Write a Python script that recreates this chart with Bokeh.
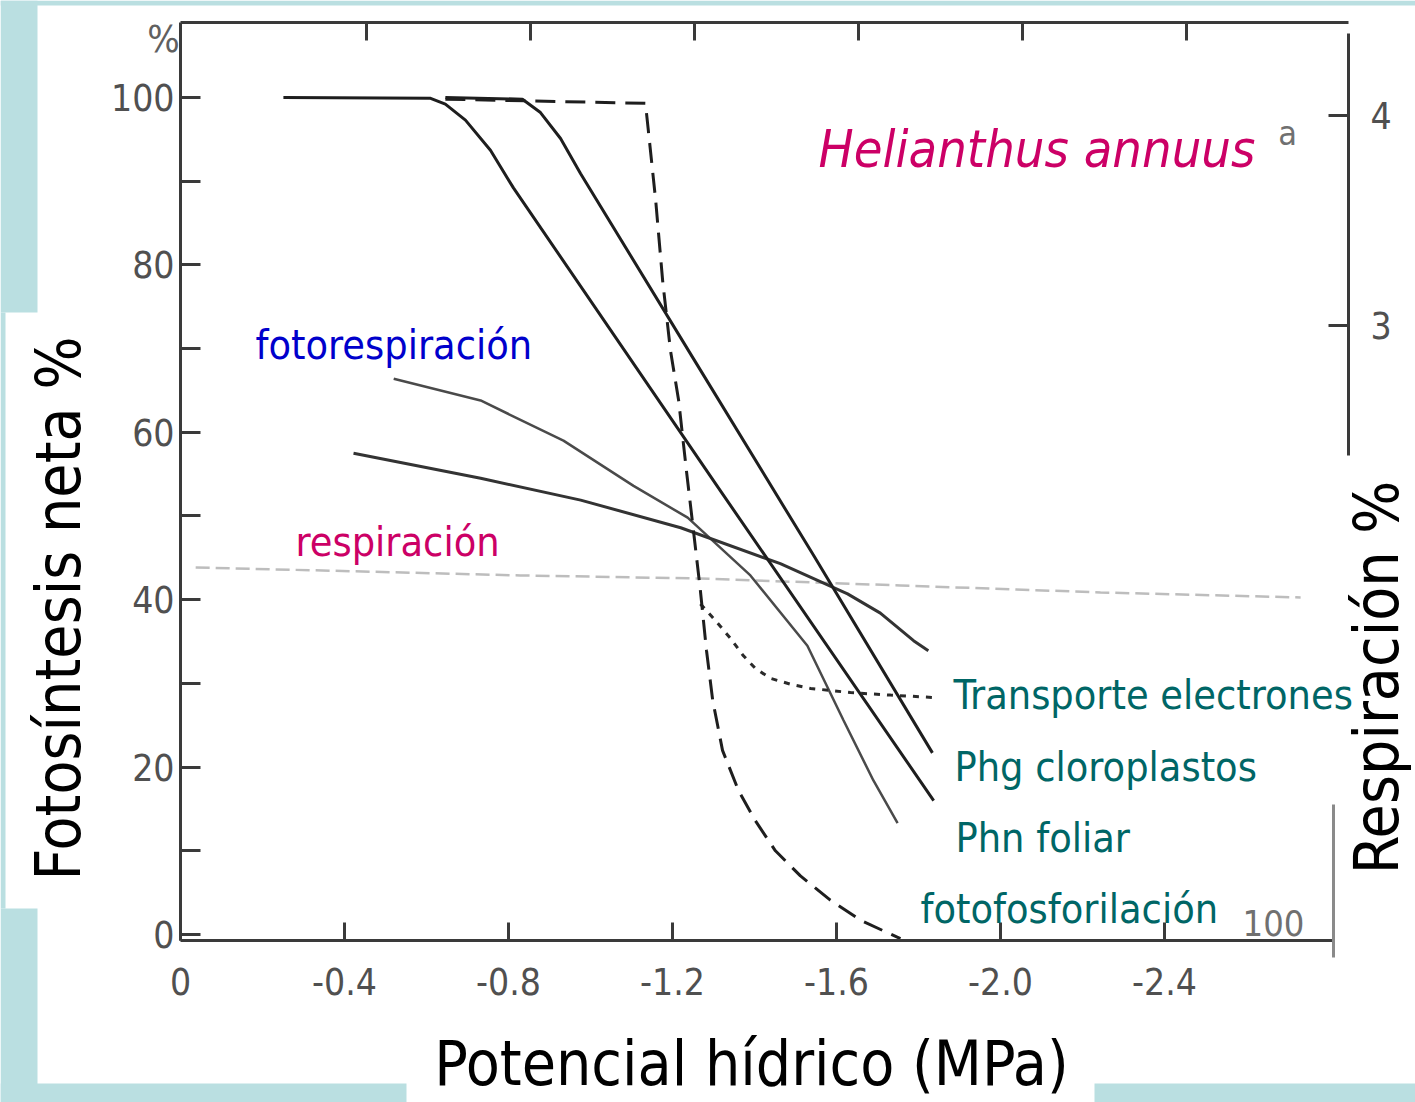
import math
from bokeh.plotting import figure
from bokeh.models import Range1d, LinearAxis, FixedTicker, Label, BoxAnnotation
from bokeh.embed import file_html
from bokeh.resources import INLINE

# ---------------- data ----------------
# x = potencial hídrico (MPa), y = fotosíntesis neta (%)
fotofosforilacion_x = [-0.646, -1.134, -1.141, -1.159, -1.176, -1.195, -1.215, -1.234, -1.251, -1.268,
                       -1.283, -1.298, -1.322, -1.361, -1.402, -1.451, -1.512, -1.585, -1.659, -1.756]
fotofosforilacion_y = [99.8, 99.3, 96.1, 87.7, 78.1, 69.8, 63.8, 55.4, 48.3, 41.1,
                       33.9, 28.0, 22.0, 17.2, 13.6, 10.0, 7.0, 4.1, 1.7, -0.5]

phg_cloroplastos_x = [-0.646, -0.834, -0.878, -0.927, -0.976, -1.251, -1.544, -1.834]
phg_cloroplastos_y = [100.0, 99.8, 98.2, 95.1, 90.9, 68.8, 45.3, 21.7]

phn_foliar_x = [-0.251, -0.610, -0.646, -0.695, -0.756, -0.812, -1.317, -1.837]
phn_foliar_y = [100.0, 99.9, 99.2, 97.3, 93.7, 89.2, 53.0, 16.0]

transporte_x = [-1.268, -1.305, -1.341, -1.373, -1.402, -1.439, -1.488, -1.537, -1.634, -1.732, -1.841]
transporte_y = [39.5, 37.5, 35.4, 33.3, 31.8, 30.6, 29.9, 29.4, 28.9, 28.6, 28.3]

fotorespiracion_x = [-0.520, -0.732, -0.934, -1.105, -1.237, -1.390, -1.529, -1.617, -1.690, -1.749]
fotorespiracion_y = [66.4, 63.8, 59.0, 53.6, 49.8, 42.9, 34.5, 25.6, 18.4, 13.3]

respiracion_x = [-0.422, -0.732, -0.976, -1.220, -1.463, -1.627, -1.707, -1.788, -1.824]
respiracion_y = [57.5, 54.5, 51.9, 48.6, 44.3, 40.7, 38.4, 35.1, 33.9]

# faint trace read on the right axis (Respiración %)
resp_right_x = [-0.037, -0.829, -1.268, -1.756, -2.244, -2.732]
resp_right_y = [1.848, 1.810, 1.795, 1.762, 1.729, 1.705]

x_ticks = [0, -0.4, -0.8, -1.2, -1.6, -2.0, -2.4]
x_tick_labels = ["0", "-0.4", "-0.8", "-1.2", "-1.6", "-2.0", "-2.4"]
top_ticks = [-0.4, -0.8, -1.2, -1.6, -2.0, -2.4]
y_ticks = [0, 20, 40, 60, 80, 100]
y_minor_ticks = [10, 30, 50, 70, 90]
r_ticks = [3, 4]

# ---------------- layout ----------------
W, H = 1415, 1102
BLUE = "#badfe1"
AX = "#3a3a3a"
NUMFONT = "DejaVu Sans Condensed"
TFONT = "DejaVu Sans Condensed"
BASE_SHIFT = 0.37  # empirical offset of the alphabetic baseline (fraction of font size)

# axis extents (data units)
X_LEFT, X_RIGHT = 0.0, -2.849
X_RIGHT_LOW = -2.812
Y_BOTTOM, Y_TOP = -0.717, 108.96
TOP_SHIFT = 0.0537


def sx(px):
    return px


def sy(py):
    return H - py


p = figure(width=W, height=H, output_backend="svg", toolbar_location=None,
           x_range=Range1d(0.43902, -3.01220), y_range=Range1d(-20.072, 111.589),
           min_border=0, min_border_left=0, min_border_right=0,
           min_border_top=0, min_border_bottom=0)
p.title.visible = False
p.background_fill_color = "white"
p.border_fill_color = "white"
p.outline_line_color = None
p.xgrid.visible = False
p.ygrid.visible = False

p.extra_x_ranges = {"top": Range1d(0.43902 + TOP_SHIFT, -3.01220 + TOP_SHIFT)}
p.extra_y_ranges = {"resp": Range1d(-0.700, 4.5476)}


def style_axis(ax):
    ax.axis_line_color = AX
    ax.axis_line_width = 3
    ax.major_tick_line_color = AX
    ax.major_tick_line_width = 3
    ax.major_tick_out = 0
    ax.minor_tick_out = 0
    ax.major_label_text_font = NUMFONT
    ax.major_label_text_font_size = "37px"
    ax.major_label_text_color = "#505050"


xa = p.xaxis[0]
style_axis(xa)
xa.fixed_location = Y_BOTTOM
xa.bounds = (X_RIGHT_LOW, X_LEFT)
xa.ticker = FixedTicker(ticks=x_ticks)
xa.major_label_overrides = dict(zip(x_ticks, x_tick_labels))
xa.major_tick_in = 18
xa.major_label_standoff = 28

ya = p.yaxis[0]
style_axis(ya)
ya.fixed_location = X_LEFT
ya.bounds = (Y_BOTTOM, Y_TOP)
ya.ticker = FixedTicker(ticks=y_ticks, minor_ticks=y_minor_ticks)
ya.major_tick_in = 20
ya.minor_tick_in = 20
ya.minor_tick_line_color = AX
ya.minor_tick_line_width = 3
ya.major_label_standoff = 6

top = LinearAxis(x_range_name="top", ticker=FixedTicker(ticks=top_ticks))
style_axis(top)
top.fixed_location = Y_TOP
top.bounds = (X_RIGHT + TOP_SHIFT, X_LEFT + TOP_SHIFT)
top.major_tick_in = 18
top.major_label_text_color = None
p.add_layout(top, "above")

right = LinearAxis(y_range_name="resp", ticker=FixedTicker(ticks=r_ticks), bounds=(2.38, 4.39))
style_axis(right)
right.fixed_location = X_RIGHT
right.major_tick_in = 20
right.major_label_standoff = 22
p.add_layout(right, "right")

# lower fragment of the right-hand frame
right_low = LinearAxis(y_range_name="resp", ticker=FixedTicker(ticks=[]), bounds=(-0.01, 0.72))
style_axis(right_low)
right_low.axis_line_color = "#8a8a8a"
right_low.fixed_location = X_RIGHT_LOW
right_low.major_label_text_color = None
p.add_layout(right_low, "right")

# ---------------- curves ----------------
p.line(resp_right_x, resp_right_y, y_range_name="resp", line_color="#bdbdbd", line_width=2.5,
       line_dash="14 6")
p.line(fotorespiracion_x, fotorespiracion_y, line_color="#4a4a4a", line_width=2.5)
p.line(respiracion_x, respiracion_y, line_color="#333333", line_width=3)
p.line(phn_foliar_x, phn_foliar_y, line_color="#1e1e1e", line_width=3)
p.line(phg_cloroplastos_x, phg_cloroplastos_y, line_color="#1e1e1e", line_width=3)
p.line(transporte_x, transporte_y, line_color="#2a2a2a", line_width=3, line_dash="6 7")
p.line(fotofosforilacion_x, fotofosforilacion_y, line_color="#1e1e1e", line_width=3, line_dash="20 10")

# ---------------- background strips ----------------
for (l, t, r, b) in [(0, 0, W, 5), (0, 0, 37, 312), (0, 312, 5, 908), (0, 908, 37, H),
                     (0, 1083, 406, H), (1094, 1083, W, H)]:
    p.add_layout(BoxAnnotation(left=sx(l), right=sx(r), top=sy(t), bottom=sy(b),
                               left_units="screen", right_units="screen",
                               top_units="screen", bottom_units="screen",
                               fill_color=BLUE, fill_alpha=1.0, line_color=None))


# ---------------- texts ----------------
def add_label(text, px, py, size, color, align="left", baseline="alphabetic", angle=0.0,
              style="normal", font=TFONT):
    if baseline == "alphabetic":
        if angle == 0.0:
            py = py - BASE_SHIFT * size
        else:
            px = px - BASE_SHIFT * size
    p.add_layout(Label(x=sx(px), y=sy(py), x_units="screen", y_units="screen", text=text,
                       text_font=font, text_font_size=f"{size}px", text_color=color,
                       text_align=align, text_baseline=baseline, angle=angle,
                       text_font_style=style))


add_label("Fotosíntesis neta %", 81, 608, 62, "black", align="center", angle=math.pi / 2)
add_label("Respiración %", 1399, 677, 62, "black", align="center", angle=math.pi / 2)
add_label("Potencial hídrico (MPa)", 751, 1086, 62, "black", align="center")

add_label("Helianthus annuus", 818, 168, 52, "#cc0066", style="italic")
add_label("fotorespiración", 255, 360, 41, "#0000cc")
add_label("respiración", 295, 557, 41, "#cc0066")
add_label("Transporte electrones", 953, 710, 41, "#006666")
add_label("Phg cloroplastos", 954, 782, 41, "#006666")
add_label("Phn foliar", 955, 853, 41, "#006666")
add_label("fotofosforilación", 920, 924, 41, "#006666")

add_label("%", 163, 38, 38, "#606060", align="center", baseline="middle")
add_label("a", 1287, 132, 34, "#707070", align="center", baseline="middle")
add_label("100", 1273, 922, 36, "#707070", align="center", baseline="middle")

open("out.html", "w").write(file_html(p, INLINE))
